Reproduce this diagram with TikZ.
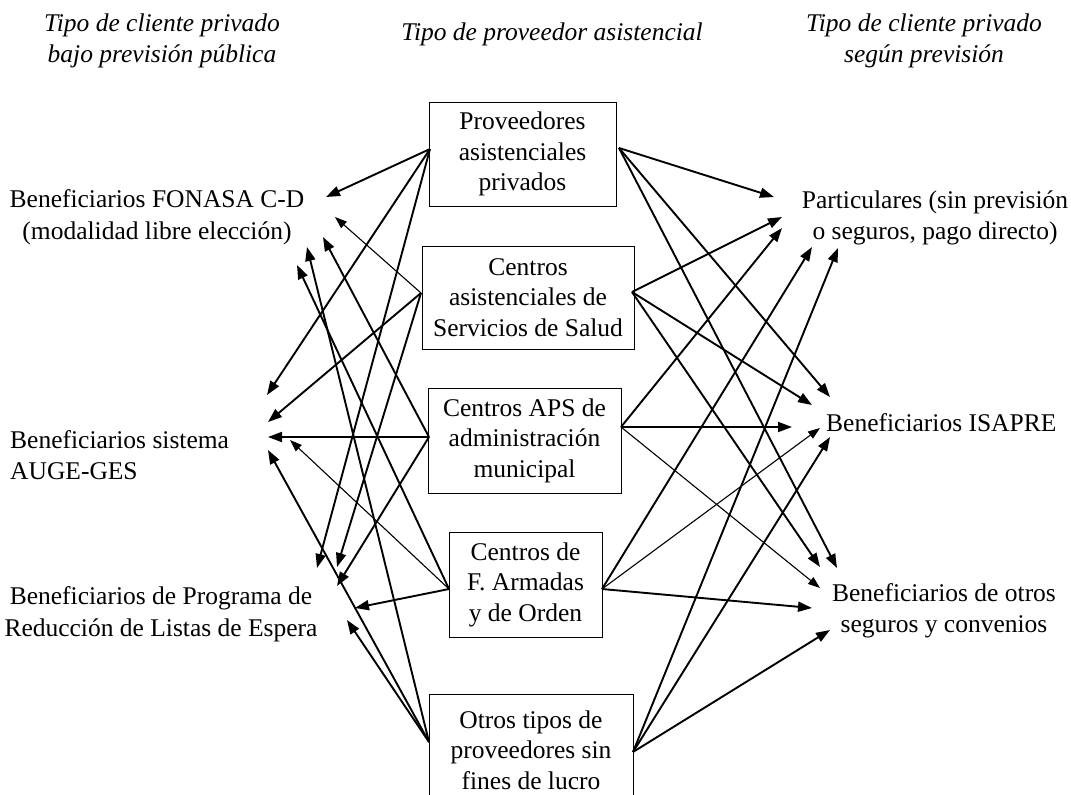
\documentclass[tikz,border=0pt]{standalone}
\usepackage{fontspec}
\setmainfont{Liberation Serif}
\usetikzlibrary{arrows.meta}
\begin{document}
\begin{tikzpicture}[x=1pt,y=-1pt,
  txt/.style={inner sep=0pt, align=center, font=\fontsize{25.5}{31.5}\selectfont},
  hdr/.style={txt, font=\fontsize{25.5}{31.5}\selectfont\itshape},
  box/.style={draw, line width=1pt, inner sep=0pt, align=center, font=\fontsize{25.5}{30.5}\selectfont},
  arrA/.style={line width=1.9pt, -{Triangle[length=14pt,width=10pt]}},
  arrB/.style={line width=1.1pt, -{Triangle[length=12pt,width=8.5pt]}}]
\path[use as bounding box] (0,0) rectangle (1071,795);
\clip (0,0) rectangle (1071,795);
% headers
\node[hdr] (h1) at (162,41) {Tipo de cliente privado\\bajo previsión pública};
\node[hdr, anchor=base] (h2) at (552,40) {Tipo de proveedor asistencial};
\node[hdr] (h3) at (924,41) {Tipo de cliente privado\\según previsión};
% left labels
\node[txt] (fon) at (157,217) {Beneficiarios FONASA C-D\\(modalidad libre elección)};
\node[txt, align=left, anchor=west] (aug) at (10,455) {Beneficiarios sistema\\AUGE-GES};
\node[txt] (prg) at (161,614) {Beneficiarios de Programa de\\Reducción de Listas de Espera};
% right labels
\node[txt] (par) at (935,218) {Particulares (sin previsión\\o seguros, pago directo)};
\node[txt, anchor=base west] (isa) at (826,431) {Beneficiarios ISAPRE};
\node[txt] (otr) at (944,611) {Beneficiarios de otros\\seguros y convenios};
% boxes
\node[box, minimum width=187pt, minimum height=104pt] (p1) at (522.5,154) {Proveedores\\asistenciales\\privados};
\node[box, minimum width=212pt, minimum height=103pt] (p2) at (528,297.5) {Centros\\asistenciales de\\Servicios de Salud};
\node[box, minimum width=193pt, minimum height=105pt] (p3) at (524.5,440.5) {Centros APS de\\administración\\municipal};
\node[box, minimum width=153pt, minimum height=105pt] (p4) at (525.5,584.5) {Centros de\\F. Armadas\\y de Orden};
\node[box, minimum width=204pt, minimum height=112pt] (p5) at (531,750) {Otros tipos de\\proveedores sin\\fines de lucro};
% origins
\coordinate (p1L) at (430,149); \coordinate (p1R) at (619,148);
\coordinate (p2L) at (421,293); \coordinate (p2R) at (632,292);
\coordinate (p3L) at (429,437); \coordinate (p3R) at (621,427);
\coordinate (p4L) at (449,589); \coordinate (p4R) at (602,589);
\coordinate (p5L) at (429,742); \coordinate (p5R) at (633,752);
% left tips
\coordinate (F1) at (326,197); \coordinate (F2) at (335,217); \coordinate (F3) at (323,237);
\coordinate (F4) at (297,265); \coordinate (F5) at (307,247);
\coordinate (A1) at (267,395); \coordinate (A2) at (268,422); \coordinate (A3) at (268,437);
\coordinate (A4) at (290,440); \coordinate (A5) at (268,450);
\coordinate (G1) at (317,568); \coordinate (G2) at (337,567); \coordinate (G3) at (337,586);
\coordinate (G4) at (355,608); \coordinate (G5) at (347,620);
% right tips
\coordinate (R1) at (774,197); \coordinate (R2) at (782,217); \coordinate (R3) at (782,228);
\coordinate (R4) at (812,247); \coordinate (R5) at (838,248);
\coordinate (I1) at (830,397); \coordinate (I2) at (812,405); \coordinate (I3) at (792,427);
\coordinate (I4) at (820,428); \coordinate (I5) at (830,437);
\coordinate (O1) at (837,568); \coordinate (O2) at (820,567); \coordinate (O3) at (820,588);
\coordinate (O4) at (812,608); \coordinate (O5) at (830,630);
% left connectors
\draw[arrA] (p1L) -- (F1);
\draw[arrB] (p2L) -- (F2);
\draw[arrA] (p3L) -- (F3);
\draw[arrA] (p4L) -- (F4);
\draw[arrA] (p5L) -- (F5);
\draw[arrA] (p1L) -- (A1);
\draw[arrA] (p2L) -- (A2);
\draw[arrA] (p3L) -- (A3);
\draw[arrB] (p4L) -- (A4);
\draw[arrA] (p5L) -- (A5);
\draw[arrA] (p1L) -- (G1);
\draw[arrA] (p2L) -- (G2);
\draw[arrA] (p3L) -- (G3);
\draw[arrA] (p4L) -- (G4);
\draw[arrA] (p5L) -- (G5);
% right connectors
\draw[arrA] (p1R) -- (R1);
\draw[arrA] (p2R) -- (R2);
\draw[arrA] (p3R) -- (R3);
\draw[arrA] (p4R) -- (R4);
\draw[arrA] (p5R) -- (R5);
\draw[arrA] (p1R) -- (I1);
\draw[arrA] (p2R) -- (I2);
\draw[arrA] (p3R) -- (I3);
\draw[arrB] (p4R) -- (I4);
\draw[arrA] (p5R) -- (I5);
\draw[arrA] (p1R) -- (O1);
\draw[arrA] (p2R) -- (O2);
\draw[arrB] (p3R) -- (O3);
\draw[arrA] (p4R) -- (O4);
\draw[arrA] (p5R) -- (O5);
\end{tikzpicture}
\end{document}
